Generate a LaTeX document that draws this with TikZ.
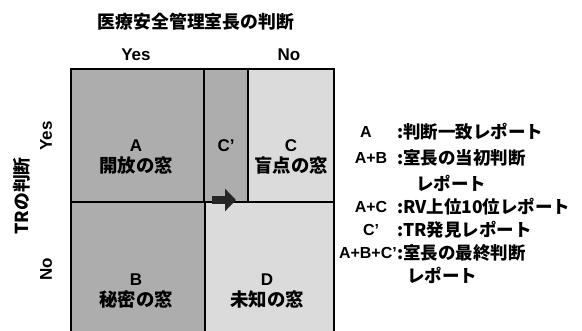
\documentclass[tikz,border=0pt]{standalone}
\usepackage{fontspec}
\setmainfont{Liberation Sans}
\newfontfamily\jpfont{Noto Sans CJK JP}[Scale=1.15]
\usetikzlibrary{arrows.meta}

\begin{document}
\begin{tikzpicture}[x=1pt,y=-1pt]
    \tikzset{
        darkcell/.style={fill=black!32},
        lightcell/.style={fill=black!14},
        gridline/.style={line width=1.6pt, line cap=rect},
        latin/.style={font=\bfseries\fontsize{17}{20}\selectfont, inner sep=0pt},
        jptext/.style={font=\jpfont\bfseries\fontsize{15.5}{17}\selectfont, inner sep=0pt},
        celltext/.style={font=\jpfont\bfseries\fontsize{16}{18}\selectfont, inner sep=0pt},
        keylabel/.style={font=\bfseries\fontsize{16}{18}\selectfont, inner sep=0pt},
        keytext/.style={font=\jpfont\bfseries\fontsize{15.2}{18}\selectfont, inner sep=0pt, anchor=west},
        shiftarrow/.style={line width=8pt, black!85, -{Triangle[length=11pt, width=22pt]}}
    }
    \useasboundingbox (0,0) rectangle (582,331);

    % the four windows
    \fill[darkcell] (71,69) rectangle (204,202);
    \fill[darkcell] (204,69) rectangle (248,202);
    \fill[lightcell] (248,69) rectangle (334,202);
    \fill[darkcell] (71,202) rectangle (205,331);
    \fill[lightcell] (205,202) rectangle (334,331);

    \draw[gridline] (71,331) -- (71,69) -- (334,69) -- (334,331);
    \draw[gridline] (71,202) -- (334,202);
    \draw[gridline] (204,69) -- (204,202);
    \draw[gridline] (205,202) -- (205,331);
    \draw[gridline] (248,69) -- (248,202);

    % headings
    \node[jptext] (chief) at (196,22) {医療安全管理室長の判断};
    \node[latin] (chiefyes) at (136,55) {Yes};
    \node[latin] (chiefno) at (289,55) {No};
    \node[jptext, rotate=90] (tr) at (22,196) {TRの判断};
    \node[latin, rotate=90] (tryes) at (46,136) {Yes};
    \node[latin, rotate=90] (trno) at (46,269) {No};

    % cell texts
    \node[latin] (cellA) at (136,146) {A};
    \node[celltext] (winA) at (136,166) {開放の窓};
    \node[latin] (cellCp) at (226,146) {C'};
    \node[latin] (cellC) at (291,146) {C};
    \node[celltext] (winC) at (291,166) {盲点の窓};
    \node[latin] (cellB) at (136,280) {B};
    \node[celltext] (winB) at (136,300) {秘密の窓};
    \node[latin] (cellD) at (267,280) {D};
    \node[celltext] (winD) at (267,300) {未知の窓};

    \coordinate (arrowtail) at (212,200);
    \coordinate (arrowhead) at (236,200);
    \draw[shiftarrow] (arrowtail) -- (arrowhead);

    % legend
    \node[keylabel] (keyA) at (366,132) {A};
    \node[keytext] (txtA) at (397,132) {:判断一致レポート};
    \node[keylabel] (keyAB) at (371,158) {A+B};
    \node[keytext] (txtAB) at (397,158) {:室長の当初判断};
    \node[keytext] (txtAB2) at (416,183) {レポート};
    \node[keylabel] (keyAC) at (371,207) {A+C};
    \node[keytext] (txtAC) at (397,207) {:RV上位10位レポート};
    \node[keylabel] (keyCp) at (371,230) {C'};
    \node[keytext] (txtCp) at (397,230) {:TR発見レポート};
    \node[keylabel, anchor=east] (keyABC) at (397,253) {A+B+C'};
    \node[keytext] (txtABC) at (397,253) {:室長の最終判断};
    \node[keytext] (txtABC2) at (407,275) {レポート};
\end{tikzpicture}
\end{document}
